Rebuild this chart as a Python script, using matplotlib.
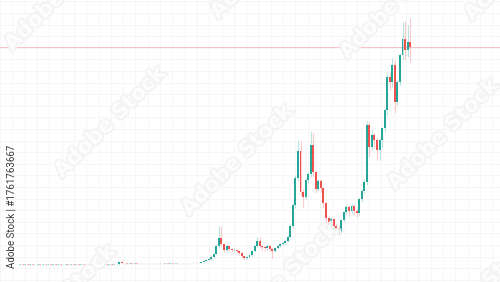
import numpy as np
import matplotlib
matplotlib.use("Agg")
import matplotlib.pyplot as plt
import matplotlib.patheffects as pe

# candle closes / highs / lows (price units, opens = previous close)
first_open = 0.5
close = [
    0.6, 0.4, 0.7, 0.5, 0.6, 0.4, 0.5, 0.7, 0.5, 0.6, 0.4, 0.6, 0.5, 0.7, 0.5, 0.6, 0.4, 0.5, 0.6, 0.4,
    0.6, 0.5, 0.7, 0.5, 0.6, 0.4, 0.5, 0.7, 0.5, 0.6, 0.4, 0.6, 0.5, 0.7, 0.5, 0.6, 0.5, 0.6, 0.7,
    3.0, 2.0,
    1.8, 1.5, 1.7, 1.4, 1.6, 1.3, 1.5, 1.2, 1.4, 1.3, 1.5, 1.2, 1.4, 1.3, 1.5, 1.4, 1.6, 1.4, 1.6, 1.5,
    1.7, 1.6, 1.8, 1.7, 1.9, 1.8, 2.0, 2.1, 2.0, 2.2,
    3, 4, 5, 6, 8, 11,
    19, 27, 21, 15, 19, 16, 15, 15.5, 14, 12, 9, 7, 8, 10, 14, 19, 24, 19, 18, 17,
    19, 16, 14, 17, 19, 21, 22, 24, 28, 39, 60, 87, 114,
    73, 68, 85, 91, 120, 93, 76, 84, 77, 62, 47, 39, 46, 39, 37, 34, 45, 53, 58, 54,
    59, 54, 52, 66, 74, 83,
    140, 118, 130, 125, 115, 125, 137, 155, 188, 183, 200, 163, 183, 210, 226, 215, 223, 218,
]
high = [
    0.9, 0.8, 1.0, 0.9, 0.9, 0.8, 0.8, 1.0, 0.9, 0.9, 0.8, 0.9, 0.9, 1.0, 0.8, 0.9, 0.8, 0.8, 0.9, 0.8,
    0.9, 0.9, 1.0, 0.8, 0.9, 0.8, 0.8, 1.0, 0.9, 0.9, 0.8, 0.9, 0.9, 1.0, 0.8, 0.9, 0.9, 0.9, 1.0,
    4.0, 3.4,
    2.4, 2.1, 2.2, 2.0, 2.1, 1.9, 2.0, 1.8, 1.9, 1.8, 2.0, 1.8, 1.9, 1.8, 2.0, 1.9, 2.1, 2.0, 2.1, 2.0,
    2.2, 2.1, 2.3, 2.2, 2.4, 2.3, 2.5, 2.6, 2.6, 2.8,
    3.6, 4.6, 5.8, 7, 9.5, 12.5,
    21, 39, 39, 22, 21, 20, 17, 17, 16, 15, 13, 9, 9, 11, 15, 20, 28, 28, 20, 19,
    20, 20, 17, 18, 20, 22, 23, 25, 30, 41, 62, 90, 125,
    124, 76, 87, 93, 134, 132, 95, 86, 86, 78, 63, 49, 48, 47, 41, 40, 46, 54, 60, 60,
    61, 60, 56, 67, 76, 86,
    144, 143, 135, 132, 127, 127, 138, 157, 193, 193, 207, 205, 185, 212, 243, 244, 240, 247,
]
low = [
    0.2, 0.1, 0.3, 0.2, 0.2, 0.1, 0.2, 0.3, 0.2, 0.2, 0.1, 0.2, 0.2, 0.3, 0.2, 0.2, 0.1, 0.2, 0.2, 0.1,
    0.2, 0.2, 0.3, 0.2, 0.2, 0.1, 0.2, 0.3, 0.2, 0.2, 0.1, 0.2, 0.2, 0.3, 0.2, 0.2, 0.2, 0.2, 0.3,
    0.5, 1.6,
    1.2, 1.1, 1.2, 1.0, 1.1, 0.9, 1.0, 0.9, 1.0, 0.9, 1.0, 0.9, 1.0, 0.9, 1.0, 1.0, 1.1, 1.0, 1.2, 1.1,
    1.2, 1.2, 1.3, 1.3, 1.4, 1.4, 1.5, 1.6, 1.7, 1.8,
    2.0, 2.8, 3.8, 4.8, 5.5, 7.5,
    10, 17, 19, 13, 13, 14, 13, 13, 12, 10, 7, 5, 6, 7, 9, 13, 18, 17, 15, 14,
    15, 14, 7, 13, 16, 18, 20, 21, 23, 27, 37, 57, 84,
    70, 58, 66, 82, 88, 88, 72, 74, 73, 58, 42, 34, 36, 35, 33, 30, 32, 43, 51, 50,
    51, 50, 48, 50, 63, 72,
    80, 108, 115, 118, 105, 105, 118, 133, 150, 175, 178, 152, 160, 180, 205, 206, 208, 202,
]

side_label = "Adobe Stock | #1761763667"
watermark = "Adobe Stock"
# watermark centres, in pixels from top-left
wm_x = [110, 60, 237, 266, 395, 443, 283, 520, 480, 60]
wm_y = [122, -5, 160, -37, 3, 134, 278, -35, 290, 300]

UP = "#26a69a"
DOWN = "#ef5350"


def px_x(px):
    # pixel column -> candle index
    return (px - 20) / 2.55


def px_y(py):
    # pixel row -> price
    return 265 - py


def main():
    c = np.array(close, dtype=float)
    o = np.r_[first_open, c[:-1]]
    hi = np.array(high, dtype=float)
    lo = np.array(low, dtype=float)
    x = np.arange(len(c))
    colors = np.where(c >= o, UP, DOWN)
    tiny = np.abs(c - o) < 0.5

    fig = plt.figure(figsize=(5, 2.82), dpi=100)
    ax = fig.add_axes([0, 0, 1, 1])
    ax.set_xlim(px_x(0), px_x(500))
    ax.set_ylim(px_y(282), px_y(0))
    ax.axis("off")

    # faint background grid
    for gx in np.arange(0.1, 500, 12.3):
        ax.axvline(px_x(gx), color="#f6f6f6", lw=0.7, zorder=0)
    for gy in np.arange(1.3, 282, 11.6):
        ax.axhline(px_y(gy), color="#f6f6f6", lw=0.7, zorder=0)

    # last price line
    ax.axhline(c[-1], color="#f28b96", lw=0.6, alpha=0.6, zorder=1)

    ax.vlines(x, lo, hi, colors=colors, lw=0.8, alpha=0.3, zorder=2)
    ax.bar(x[~tiny], (c - o)[~tiny], bottom=o[~tiny], width=0.75,
           color=colors[~tiny], lw=0, zorder=3)
    ax.bar(x[tiny], (c - o)[tiny], bottom=o[tiny], width=0.75,
           color=colors[tiny], lw=0, alpha=0.35, zorder=3)

    for wx, wy in zip(wm_x, wm_y):
        ax.text(wx / 500, 1 - wy / 282, watermark, transform=ax.transAxes,
                rotation=45, ha="center", va="center", fontsize=15, fontweight="bold",
                color="white", alpha=0.85, zorder=5,
                path_effects=[pe.withStroke(linewidth=3, foreground="#f3f3f3")])

    ax.text(12 / 500, 1 - 206 / 282, side_label, transform=ax.transAxes,
            rotation=90, ha="center", va="center", fontsize=7, color="#3a3a3a",
            family="Roboto", zorder=6)

    fig.savefig("out.png", dpi=100)
    plt.close(fig)


if __name__ == "__main__":
    main()
